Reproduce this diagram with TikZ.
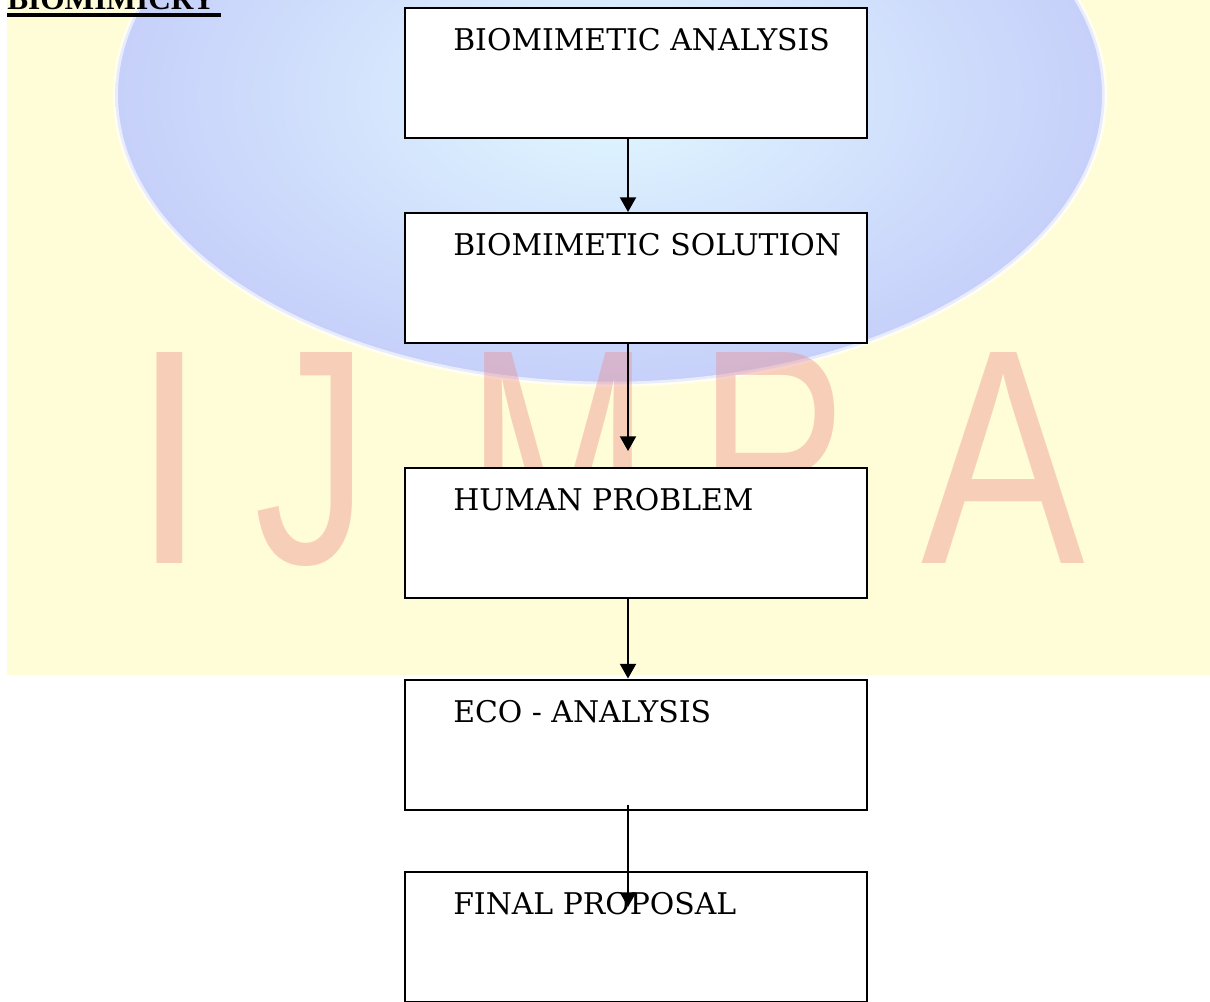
\documentclass[tikz,border=0pt]{standalone}
\usepackage{fontspec}
\setmainfont{DejaVu Serif}
\newfontfamily\titlefont{Liberation Serif}
\newfontfamily\wmfont{Liberation Sans}
\usetikzlibrary{arrows.meta}
\definecolor{bgyellow}{RGB}{255,253,215}
\definecolor{globeout}{RGB}{198,208,250}
\definecolor{globein}{RGB}{225,248,255}
\definecolor{wmred}{RGB}{235,140,140}
\tikzset{
 box/.style={draw=black, line width=1.5pt, fill=white, minimum width=346.5pt, minimum height=97.5pt, inner sep=0pt},
 boxtext/.style={anchor=base west, inner sep=0pt, font=\fontsize{22.4}{26}\selectfont},
 arr/.style={-{Triangle[width=12pt,length=11pt]}, line width=1.5pt},
 wm/.style={anchor=base, inner sep=0pt, text=wmred, opacity=0.4, font=\wmfont\fontsize{230}{230}\selectfont}
}
\begin{document}
\begin{tikzpicture}[x=0.75pt,y=-0.75pt]
\useasboundingbox (0,0) rectangle (1210,1001);
\clip (0,0) rectangle (1210,1001);
\fill[white] (0,0) rectangle (1210,1001);
\fill[bgyellow] (7,0) rectangle (1210,675);
% globe watermark
\shade[inner color=globein, outer color=globeout, draw=white, draw opacity=0.6, line width=4pt]
  (610,95) ellipse [x radius=371pt, y radius=217pt];
% watermark letters
\node[wm] (wI) at (170,563) {\scalebox{0.9}[1]{I}};
\node[wm] (wJ) at (312,563) {\scalebox{0.75}[1]{J}};
\node[wm] (wM) at (558,563) {\scalebox{0.72}[1]{M}};
\node[wm] (wR) at (775,563) {\scalebox{0.68}[1]{R}};
\node[wm] (wA) at (1003,563) {\scalebox{0.8}[1]{A}};
% title
\node[anchor=base west, inner sep=0pt, font=\titlefont\bfseries\fontsize{23.5}{23.5}\selectfont] (title) at (7,9) {BIOMIMICRY};
\draw[line width=3pt] (title.base west |- 0,14.7) -- (221,14.7);
% boxes
\node[box] (b1) at (636,73) {};
\node[box] (b2) at (636,278) {};
\node[box] (b3) at (636,533) {};
\node[box] (b4) at (636,744.5) {};
\node[box] (b5) at (636,937) {};
\node[boxtext] (t1) at (453,50) {BIOMIMETIC ANALYSIS};
\node[boxtext] (t2) at (453,255) {BIOMIMETIC SOLUTION};
\node[boxtext] (t3) at (453,510) {HUMAN PROBLEM};
\node[boxtext] (t4) at (453,722) {ECO - ANALYSIS};
\node[boxtext] (t5) at (453,914) {FINAL PROPOSAL};
% arrows
\draw[arr] ([xshift=-6pt]b1.south) -- ([xshift=-6pt]b2.north);
\draw[arr, shorten >=12pt] ([xshift=-6pt]b2.south) -- ([xshift=-6pt]b3.north);
\draw[arr] ([xshift=-6pt]b3.south) -- ([xshift=-6pt]b4.north);
\draw[arr, shorten <=-4.5pt, shorten >=-27pt] ([xshift=-6pt]b4.south) -- ([xshift=-6pt]b5.north);
\end{tikzpicture}
\end{document}
